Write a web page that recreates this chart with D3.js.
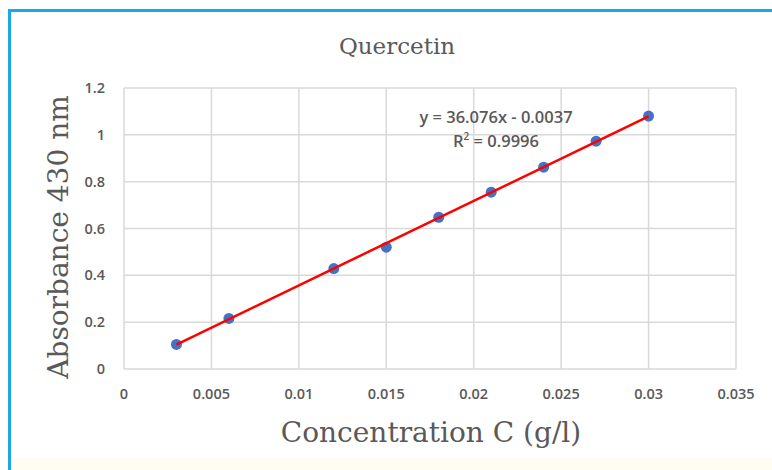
<!DOCTYPE html>
<html>
<head>
<meta charset="utf-8">
<script src="https://cdn.jsdelivr.net/npm/d3@7"></script>
<style>
  body { margin: 0; background: #fff; }
  svg { display: block; }
</style>
</head>
<body>
<svg id="chart" width="772" height="470"></svg>
<script>
// data
var conc = [0.003, 0.006, 0.012, 0.015, 0.018, 0.021, 0.024, 0.027, 0.03];
var absorb = [0.105, 0.216, 0.429, 0.52, 0.648, 0.755, 0.862, 0.973, 1.08];
var xTicks = [0, 0.005, 0.01, 0.015, 0.02, 0.025, 0.03, 0.035];
var yTicks = [0, 0.2, 0.4, 0.6, 0.8, 1, 1.2];
var slope = 36.076, intercept = -0.0037;

var svg = d3.select('#chart');

// frame
svg.append('rect').attr('x', 0).attr('y', 0).attr('width', 772).attr('height', 470).attr('fill', '#fff');
svg.append('rect').attr('x', 12).attr('y', 458).attr('width', 760).attr('height', 12).attr('fill', '#fffcf2');
svg.append('rect')
    .attr('x', 9.5).attr('y', 10.5).attr('width', 780).attr('height', 480)
    .attr('fill', 'none').attr('stroke', '#1aa7ec').attr('stroke-width', 3);

var pLeft = 124, pRight = 736, pTop = 88, pBottom = 369;

var x = d3.scaleLinear().domain([0, 0.035]).range([pLeft, pRight]);
var y = d3.scaleLinear().domain([0, 1.2]).range([pBottom, pTop]);

// grid
var g = svg.append('g');
g.selectAll('.vg').data(xTicks).enter().append('line')
    .attr('x1', d => x(d)).attr('x2', d => x(d))
    .attr('y1', pTop).attr('y2', pBottom)
    .attr('stroke', '#d9d9d9').attr('stroke-width', 1.5);
g.selectAll('.hg').data(yTicks).enter().append('line')
    .attr('x1', pLeft).attr('x2', pRight)
    .attr('y1', d => y(d)).attr('y2', d => y(d))
    .attr('stroke', '#d9d9d9').attr('stroke-width', 1.5);

// tick labels
var tickFont = 'Open Sans, Liberation Sans, sans-serif';
svg.append('g').selectAll('text').data(xTicks).enter().append('text')
    .attr('x', d => x(d)).attr('y', 399)
    .attr('text-anchor', 'middle')
    .attr('font-family', tickFont).attr('font-size', 14.5).attr('font-weight', 600)
    .attr('fill', '#595959')
    .text(d => d3.format('')(d));
svg.append('g').selectAll('text').data(yTicks).enter().append('text')
    .attr('x', 105).attr('y', d => y(d) + 5)
    .attr('text-anchor', 'end')
    .attr('font-family', tickFont).attr('font-size', 14.5).attr('font-weight', 600)
    .attr('fill', '#595959')
    .text(d => d3.format('')(d));

// trend line + points
var trend = [conc[0], conc[conc.length - 1]].map(c => [c, slope * c + intercept]);
var line = d3.line().x(d => x(d[0])).y(d => y(d[1]));

svg.append('g').selectAll('circle').data(conc).enter().append('circle')
    .attr('cx', d => x(d)).attr('cy', (d, i) => y(absorb[i]))
    .attr('r', 5.5).attr('fill', '#4472c4');

svg.append('path')
    .datum(trend)
    .attr('d', line)
    .attr('stroke', '#ff0000').attr('stroke-width', 2.5).attr('fill', 'none');

// equation
var eq = svg.append('g').attr('font-family', tickFont).attr('font-size', 16.5).attr('font-weight', 600).attr('fill', '#595959');
eq.append('text').attr('x', 496).attr('y', 123).attr('text-anchor', 'middle')
    .text('y = ' + slope + 'x - ' + Math.abs(intercept));
var r2 = eq.append('text').attr('x', 496).attr('y', 147).attr('text-anchor', 'middle');
r2.append('tspan').text('R');
r2.append('tspan').attr('font-size', 10).attr('dy', -7).text('2');
r2.append('tspan').attr('dy', 7).text(' = 0.9996');

// titles
var serif = 'DejaVu Serif, Liberation Serif, serif';
svg.append('text').attr('x', 397).attr('y', 54).attr('text-anchor', 'middle')
    .attr('font-family', serif).attr('font-size', 23).attr('font-weight', 300).attr('fill', '#595959')
    .text('Quercetin');
svg.append('text').attr('x', 431).attr('y', 442).attr('text-anchor', 'middle')
    .attr('font-family', serif).attr('font-size', 28).attr('font-weight', 300).attr('fill', '#595959')
    .text('Concentration C (g/l)');
svg.append('text')
    .attr('transform', 'translate(68,' + 237 + ') rotate(-90)')
    .attr('text-anchor', 'middle')
    .attr('font-family', serif).attr('font-size', 28).attr('font-weight', 300).attr('fill', '#595959')
    .text('Absorbance  430 nm');
</script>
</body>
</html>
